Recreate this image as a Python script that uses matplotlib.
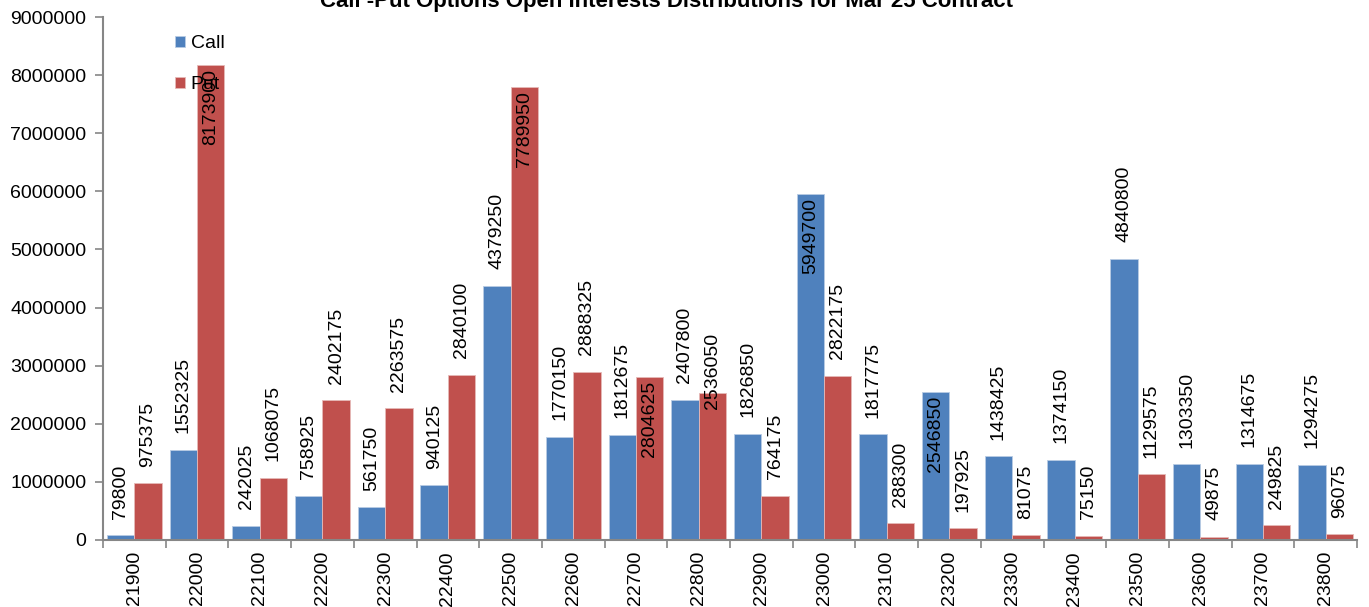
import numpy as np
import matplotlib
matplotlib.use("Agg")
import matplotlib.pyplot as plt
from matplotlib.ticker import FuncFormatter

strikes = ["21900", "22000", "22100", "22200", "22300", "22400", "22500", "22600", "22700", "22800",
           "22900", "23000", "23100", "23200", "23300", "23400", "23500", "23600", "23700", "23800"]
call_oi = [79800, 1552325, 242025, 758925, 561750, 940125, 4379250, 1770150, 1812675, 2407800,
           1826850, 5949700, 1817775, 2546850, 1438425, 1374150, 4840800, 1303350, 1314675, 1294275]
put_oi = [975375, 8173900, 1068075, 2402175, 2263575, 2840100, 7789950, 2888325, 2804625, 2536050,
          764175, 2822175, 288300, 197925, 81075, 75150, 1129575, 49875, 249825, 96075]

# labels that sit inside the top of the bar, and one that is pushed down
inside = {("put", 1), ("put", 6), ("put", 8), ("call", 11), ("call", 13)}
shifted = {("put", 9): -12}

plt.rcParams["font.family"] = ["Liberation Sans", "DejaVu Sans"]
plt.rcParams["font.size"] = 14

fig = plt.figure(figsize=(13.69, 6.07), dpi=100)
ax = fig.add_axes([103 / 1369, 1 - 540 / 607, (1357 - 103) / 1369, (540 - 17) / 607])

x = np.arange(len(strikes))
w = 0.437
bars_c = ax.bar(x - w / 2, call_oi, w, color="#4F81BD", edgecolor="#B8CCE4", linewidth=0.6, label="Call")
bars_p = ax.bar(x + w / 2, put_oi, w, color="#C0504D", edgecolor="#E6B9B8", linewidth=0.6, label="Put")

for name, bars, vals in [("call", bars_c, call_oi), ("put", bars_p, put_oi)]:
    for i, (b, v) in enumerate(zip(bars, vals)):
        cx = b.get_x() + b.get_width() / 2
        if (name, i) in inside:
            ax.annotate(str(v), (cx, v), xytext=(0, -3), textcoords="offset points",
                        rotation=90, ha="center", va="top")
        else:
            off = shifted.get((name, i), 12)
            ax.annotate(str(v), (cx, v), xytext=(0, off), textcoords="offset points",
                        rotation=90, ha="center", va="bottom")

ax.set_xlim(-0.5, len(strikes) - 0.5)
ax.set_ylim(0, 9000000)
ax.set_yticks(np.arange(0, 9000001, 1000000))
ax.yaxis.set_major_formatter(FuncFormatter(lambda v, p: "%d" % v))
ax.set_xticks(x)
ax.set_xticklabels(strikes, rotation=90)
ax.set_xticks(np.arange(-0.5, len(strikes), 1), minor=True)
ax.tick_params(axis="x", which="major", length=0, pad=8)
ax.tick_params(axis="x", which="minor", length=6, color="#868686", width=1.2)
ax.tick_params(axis="y", length=6, color="#868686", width=1.2, pad=6)

for s in ["top", "right"]:
    ax.spines[s].set_visible(False)
for s in ["left", "bottom"]:
    ax.spines[s].set_color("#868686")
    ax.spines[s].set_linewidth(1.5)

ax.legend(loc="upper left", bbox_to_anchor=(175 / 1369, 1 - 35 / 607), bbox_transform=fig.transFigure,
          frameon=False, borderpad=0, borderaxespad=0, handlelength=0.5, handleheight=0.5,
          handletextpad=0.3, labelspacing=1.25)

fig.text(667 / 1369, 1 - 7 / 607, "Call -Put Options Open Interests Distributions for Mar 25 Contract",
         ha="center", va="baseline", fontsize=16, fontweight="bold")

fig.savefig("out.png", dpi=100)
